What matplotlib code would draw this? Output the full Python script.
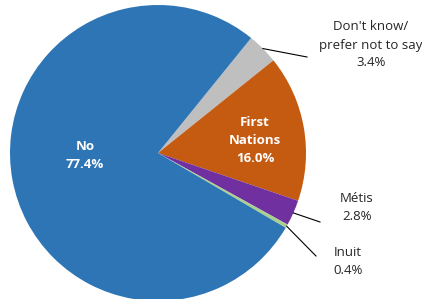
import numpy as np
import matplotlib.pyplot as plt

# data (clockwise from the top-right)
labels = ["Don't know/\nprefer not to say", "First\nNations", "Métis", "Inuit", "No"]
values = [3.4, 16.0, 2.8, 0.4, 77.4]
colors = ['#BFBFBF', '#C55A11', '#7030A0', '#A9D18E', '#2E75B6']

plt.rcParams['font.family'] = ['Open Sans', 'DejaVu Sans']

W, H = 422, 299
fig = plt.figure(figsize=(W / 100, H / 100), dpi=100)
# pie centre at (158, 153) px, radius 148 px
cx, cy, r = 158, 153, 148
ax = fig.add_axes([(cx - r) / W, (H - cy - r) / H, 2 * r / W, 2 * r / H])

wedges, _ = ax.pie(values, colors=colors, startangle=51, counterclock=False,
                   radius=1, wedgeprops=dict(linewidth=0))
ax.set_xlim(-1, 1)
ax.set_ylim(-1, 1)
ax.set_aspect('equal')
ax.axis('off')


def px(x, y):
    return (x - cx) / r, (cy - y) / r


def mid(w):
    a = np.deg2rad((w.theta1 + w.theta2) / 2)
    return np.cos(a), np.sin(a)


# inside labels
ax.text(*px(85, 156), f"No\n{values[4]:.1f}%", color='white', fontsize=9.5,
        fontweight='bold', ha='center', va='center', linespacing=1.5)
ax.text(*px(255, 141), f"{labels[1]}\n{values[1]:.1f}%", color='white', fontsize=9.5,
        fontweight='bold', ha='center', va='center', linespacing=1.5)

# outside labels with leader lines
outside = [(0, (307, 57), (371, 45)), (2, (320, 222), (357, 208)), (3, (316, 256), (348, 261))]
for i, end, txt in outside:
    sx, sy = mid(wedges[i])
    ex, ey = px(*end)
    ax.plot([sx, ex], [sy, ey], color='black', lw=0.8, clip_on=False)
    ax.text(*px(*txt), f"{labels[i]}\n{values[i]:.1f}%", color='#262626', fontsize=9.5,
            ha='center', va='center', linespacing=1.5, clip_on=False)

plt.savefig('out.png', dpi=100)
